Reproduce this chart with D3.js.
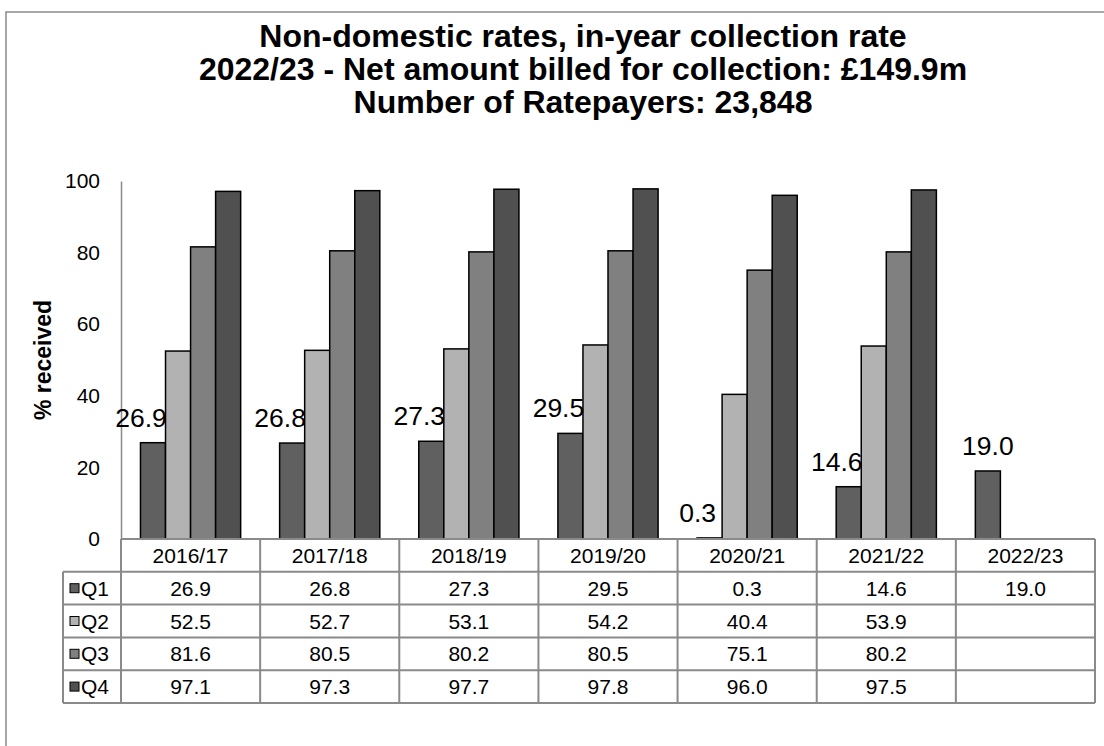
<!DOCTYPE html>
<html>
<head>
<meta charset="utf-8">
<script src="https://cdn.jsdelivr.net/npm/d3@7"></script>
<style>
  body { margin: 0; background: #fff; }
  svg { font-family: "Liberation Sans", Arial, sans-serif; }
</style>
</head>
<body>
<svg id="chart" width="1104" height="746"></svg>
<script>
// data
var years = ["2016/17", "2017/18", "2018/19", "2019/20", "2020/21", "2021/22", "2022/23"];
var quarters = ["Q1", "Q2", "Q3", "Q4"];
var q1 = [26.9, 26.8, 27.3, 29.5, 0.3, 14.6, 19.0];
var q2 = [52.5, 52.7, 53.1, 54.2, 40.4, 53.9, null];
var q3 = [81.6, 80.5, 80.2, 80.5, 75.1, 80.2, null];
var q4 = [97.1, 97.3, 97.7, 97.8, 96.0, 97.5, null];
var yTicks = [0, 20, 40, 60, 80, 100];
var titleLines = [
  "Non-domestic rates, in-year collection rate",
  "2022/23 - Net amount billed for collection: £149.9m",
  "Number of Ratepayers: 23,848"
];

function draw_chart() {
  var series = [q1, q2, q3, q4];
  var colors = ["#606060", "#b2b2b2", "#808080", "#505050"];

  var svg = d3.select("#chart");
  var plotLeft = 121, plotRight = 1095, plotTop = 181, plotBottom = 539;
  var rowH = 32.8;
  var legLeft = 63;

  // outer border
  svg.append("rect")
      .attr("x", 6).attr("y", 12)
      .attr("width", 1120).attr("height", 760)
      .attr("fill", "none").attr("stroke", "#8a8a8a").attr("stroke-width", 1.5);

  // 标题
  svg.append("g").selectAll("text")
      .data(titleLines)
      .enter().append("text")
      .attr("x", 583)
      .attr("y", (d, i) => 47 + i * 33)
      .attr("text-anchor", "middle")
      .attr("font-size", 32)
      .attr("font-weight", "bold")
      .attr("fill", "#000")
      .text(d => d);

  var x = d3.scaleBand().domain(years).range([plotLeft, plotRight]).paddingInner(0.28).paddingOuter(0.14);
  var xs = d3.scaleBand().domain(quarters).range([0, x.bandwidth()]);
  var y = d3.scaleLinear().domain([0, 100]).range([plotBottom, plotTop]);

  // y axis
  var yAxis = svg.append("g")
      .attr("transform", "translate(" + plotLeft + ",0)")
      .call(d3.axisLeft(y).tickValues(yTicks).tickSize(0).tickPadding(21));
  yAxis.select(".domain").attr("stroke", "#8a8a8a").attr("stroke-width", 1.5);
  yAxis.selectAll("text").attr("font-size", 21).attr("fill", "#000")
      .attr("font-family", "Liberation Sans, Arial, sans-serif");

  svg.append("text")
      .attr("transform", "translate(51," + (plotTop + plotBottom) / 2 + ")rotate(-90)")
      .attr("text-anchor", "middle")
      .attr("font-size", 23)
      .attr("font-weight", "bold")
      .text("% received");

  // bars
  var barData = [];
  series.forEach((s, si) => {
    s.forEach((v, yi) => {
      if (v != null) barData.push({ year: years[yi], q: quarters[si], v: v, si: si });
    });
  });

  svg.append("g").selectAll("rect")
      .data(barData)
      .enter().append("rect")
      .attr("x", d => x(d.year) + xs(d.q))
      .attr("y", d => y(d.v))
      .attr("width", xs.bandwidth())
      .attr("height", d => y(0) - y(d.v))
      .attr("fill", d => colors[d.si])
      .attr("stroke", "#000")
      .attr("stroke-width", 1.5);

  // Q1 data labels
  svg.append("g").selectAll("text")
      .data(q1)
      .enter().append("text")
      .attr("x", (d, i) => x(years[i]) + xs("Q1") + xs.bandwidth() / 2 - (q2[i] != null ? 12 : 0))
      .attr("y", d => y(d) - 16)
      .attr("text-anchor", "middle")
      .attr("font-size", 26.5)
      .attr("fill", "#000")
      .text(d => d3.format(".1f")(d));

  // data table
  var tbl = svg.append("g");
  var step = x.step();
  var tableBottom = plotBottom + rowH * 5;
  var lineStyle = sel => sel.attr("stroke", "#8a8a8a").attr("stroke-width", 2);

  tbl.append("line").attr("x1", plotLeft).attr("x2", plotRight)
      .attr("y1", plotBottom).attr("y2", plotBottom).call(lineStyle);
  d3.range(1, 6).forEach(r => {
    tbl.append("line").attr("x1", legLeft).attr("x2", plotRight)
        .attr("y1", plotBottom + r * rowH).attr("y2", plotBottom + r * rowH).call(lineStyle);
  });
  tbl.append("line").attr("x1", legLeft).attr("x2", legLeft)
      .attr("y1", plotBottom + rowH).attr("y2", tableBottom).call(lineStyle);
  d3.range(0, years.length + 1).forEach(c => {
    tbl.append("line").attr("x1", plotLeft + c * step).attr("x2", plotLeft + c * step)
        .attr("y1", plotBottom).attr("y2", tableBottom).call(lineStyle);
  });

  // header years
  tbl.selectAll("text.yr")
      .data(years)
      .enter().append("text")
      .attr("class", "yr")
      .attr("x", d => x(d) + x.bandwidth() / 2)
      .attr("y", plotBottom + rowH / 2 + 7.5)
      .attr("text-anchor", "middle")
      .attr("font-size", 21)
      .text(d => d);

  // rows
  series.forEach((s, si) => {
    var cy = plotBottom + rowH * (si + 1) + rowH / 2;
    tbl.append("rect")
        .attr("x", legLeft + 7).attr("y", cy - 4.5)
        .attr("width", 9).attr("height", 9)
        .attr("fill", colors[si]).attr("stroke", "#000").attr("stroke-width", 1);
    tbl.append("text")
        .attr("x", legLeft + 18).attr("y", cy + 7.5)
        .attr("font-size", 21)
        .text(quarters[si]);
    tbl.selectAll("text.v" + si)
        .data(s)
        .enter().append("text")
        .attr("class", "v" + si)
        .attr("x", (d, i) => x(years[i]) + x.bandwidth() / 2)
        .attr("y", cy + 7.5)
        .attr("text-anchor", "middle")
        .attr("font-size", 21)
        .text(d => d == null ? "" : d3.format(".1f")(d));
  });
}

draw_chart();
</script>
</body>
</html>
